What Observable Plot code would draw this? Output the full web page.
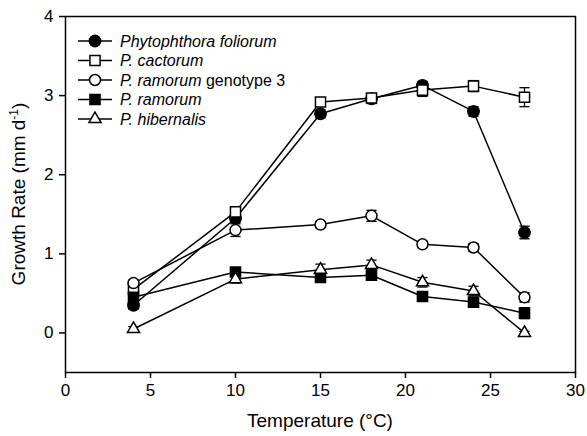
<!DOCTYPE html>
<html>
<head>
<meta charset="utf-8">
<script src="https://cdn.jsdelivr.net/npm/d3@7"></script>
<script src="https://cdn.jsdelivr.net/npm/@observablehq/plot@0.6"></script>
<style>
  html, body { margin: 0; padding: 0; background: white; }
  #chart { width: 587px; height: 436px; }
</style>
</head>
<body>
<div id="chart"></div>
<script>
// ---- data ----
const temperatures = [4, 10, 15, 18, 21, 24, 27];
const xTicks = [0, 5, 10, 15, 20, 25, 30];
const yTicks = [0, 1, 2, 3, 4];

const foliorum    = [0.35, 1.45, 2.77, 2.96, 3.13, 2.80, 1.27];
const foliorumSE  = [0.05, 0.05, 0.05, 0.06, 0.05, 0.06, 0.08];
const cactorum    = [0.55, 1.53, 2.92, 2.97, 3.07, 3.12, 2.98];
const cactorumSE  = [0.05, 0.05, 0.05, 0.05, 0.08, 0.07, 0.12];
const genotype3   = [0.63, 1.30, 1.37, 1.48, 1.12, 1.08, 0.45];
const genotype3SE = [0.04, 0.08, 0.04, 0.07, 0.04, 0.05, 0.06];
const ramorum     = [0.45, 0.77, 0.70, 0.73, 0.46, 0.39, 0.25];
const ramorumSE   = [0.05, 0.05, 0.05, 0.05, 0.05, 0.05, 0.07];
const hibernalis  = [0.05, 0.68, 0.80, 0.86, 0.64, 0.53, 0.00];
const hibernalisSE= [0.03, 0.05, 0.07, 0.06, 0.06, 0.06, 0.02];

const seriesNames = ["foliorum", "cactorum", "genotype3", "ramorum", "hibernalis"];
const seriesValues = [foliorum, cactorum, genotype3, ramorum, hibernalis];
const seriesSE = [foliorumSE, cactorumSE, genotype3SE, ramorumSE, hibernalisSE];
const seriesSymbol = ["circle", "square", "circle", "square", "triangle"];
const seriesFill = ["black", "white", "white", "black", "white"];
const seriesR = [5.7, 5.7, 5.5, 5.7, 4.5];

// legend labels: [italic part, normal part]
const legendLabels = [
  ["Phytophthora foliorum", ""],
  ["P. cactorum", ""],
  ["P. ramorum", " genotype 3"],
  ["P. ramorum", ""],
  ["P. hibernalis", ""]
];

const rows = [];
seriesNames.forEach((s, i) => {
  temperatures.forEach((t, j) => {
    rows.push({series: s, idx: i, x: t, y: seriesValues[i][j], se: seriesSE[i][j]});
  });
});

const capHalf = 0.3;

const marks = [
  Plot.frame({stroke: "black", strokeWidth: 1.5}),
  Plot.axisX({ticks: xTicks, tickSize: 6, tickPadding: 5, label: null, strokeWidth: 1.5, fontSize: 17, tickFormat: d3.format("d")}),
  Plot.axisY({ticks: yTicks, tickSize: 6, tickPadding: 6, label: null, strokeWidth: 1.5, fontSize: 17, tickFormat: d3.format("d")}),
  Plot.ruleX(rows, {x: "x", y1: d => d.y - d.se, y2: d => d.y + d.se, stroke: "black", strokeWidth: 1.3}),
  Plot.link(rows, {x1: d => d.x - capHalf, x2: d => d.x + capHalf, y1: d => d.y + d.se, y2: d => d.y + d.se, stroke: "black", strokeWidth: 1.3}),
  Plot.link(rows, {x1: d => d.x - capHalf, x2: d => d.x + capHalf, y1: d => d.y - d.se, y2: d => d.y - d.se, stroke: "black", strokeWidth: 1.3}),
  Plot.line(rows, {x: "x", y: "y", z: "series", stroke: "black", strokeWidth: 1.5})
];
seriesNames.forEach((s, i) => {
  marks.push(Plot.dot(rows.filter(d => d.series === s), {
    x: "x", y: "y", symbol: seriesSymbol[i], r: seriesR[i],
    fill: seriesFill[i], stroke: "black", strokeWidth: 1.5
  }));
});

const chart = Plot.plot({
  width: 587,
  height: 436,
  marginLeft: 65,
  marginRight: 12,
  marginTop: 16,
  marginBottom: 64,
  x: {domain: [0, 30]},
  y: {domain: [-0.5, 4]},
  style: {fontFamily: "'Liberation Sans', Arial, sans-serif", fontSize: "17px", color: "black", background: "white"},
  marks
});

const svg = d3.select(chart);

// axis titles
svg.append("text")
  .attr("x", 320).attr("y", 427)
  .attr("text-anchor", "middle")
  .attr("font-size", 19)
  .attr("fill", "black")
  .text("Temperature (°C)");

const yt = svg.append("text")
  .attr("transform", "translate(25,194) rotate(-90)")
  .attr("text-anchor", "middle")
  .attr("font-size", 19)
  .attr("fill", "black");
yt.append("tspan").text("Growth Rate (mm d");
yt.append("tspan").attr("font-size", 12).attr("dy", -7).text("-1");
yt.append("tspan").attr("dy", 7).text(")");

// legend
const leg = svg.append("g");
legendLabels.forEach((lab, i) => {
  const y = 41 + i * 19.5;
  leg.append("line").attr("x1", 78).attr("x2", 112).attr("y1", y).attr("y2", y)
    .attr("stroke", "black").attr("stroke-width", 1.5);
  const r = seriesR[i];
  const sym = seriesSymbol[i] === "circle" ? d3.symbolCircle : seriesSymbol[i] === "square" ? d3.symbolSquare : d3.symbolTriangle;
  leg.append("path").attr("d", d3.symbol(sym, Math.PI * r * r)())
    .attr("transform", `translate(95,${y})`)
    .attr("fill", seriesFill[i]).attr("stroke", "black").attr("stroke-width", 1.5);
  const t = leg.append("text").attr("x", 120).attr("y", y + 5.5)
    .attr("text-anchor", "start").attr("font-size", 16).attr("fill", "black");
  t.append("tspan").attr("font-style", "italic").text(lab[0]);
  if (lab[1]) t.append("tspan").text(lab[1]);
});

document.getElementById("chart").appendChild(chart);
</script>
</body>
</html>
